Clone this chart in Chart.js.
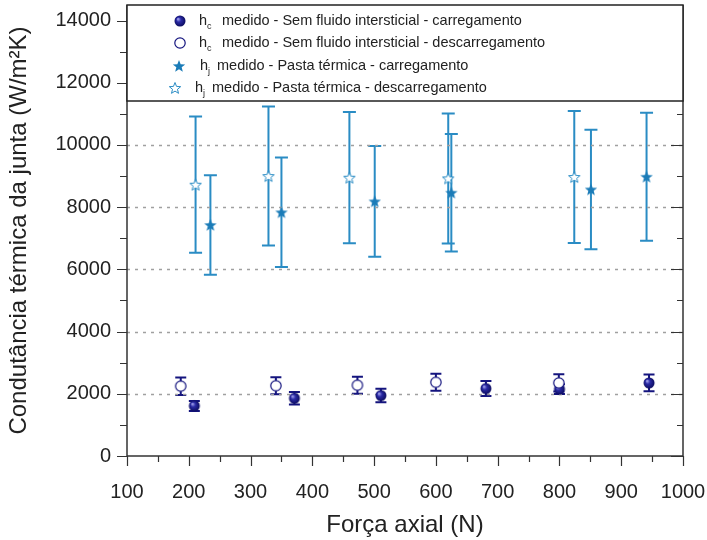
<!DOCTYPE html>
<html>
<head>
<meta charset="utf-8">
<script src="https://cdn.jsdelivr.net/npm/chart.js@4.4.1/dist/chart.umd.min.js"></script>
<style>
html, body { margin: 0; padding: 0; background: #fff; }
</style>
</head>
<body>
<canvas id="chart" width="707" height="540"></canvas>
<script>
// hc - sem fluido intersticial
const hcLoadX = [209, 371, 511, 681, 800, 945];
const hcLoadY = [1610, 1855, 1945, 2170, 2150, 2350];
const hcLoadErr = [160, 200, 220, 240, 160, 270];

const hcUnloadX = [187, 341, 473, 600, 799];
const hcUnloadY = [2245, 2260, 2275, 2370, 2350];
const hcUnloadErr = [280, 275, 275, 275, 275];

// hj - pasta termica
const hjLoadX = [235, 350, 501, 625, 851, 941];
const hjLoadY = [7425, 7833, 8186, 8465, 8570, 8978];
const hjLoadErr = [1600, 1760, 1780, 1890, 1920, 2060];

const hjUnloadX = [211, 329, 460, 620, 824];
const hjUnloadY = [8722, 9000, 8947, 8925, 8970];
const hjUnloadErr = [2190, 2235, 2110, 2090, 2120];

const yLabelTicks = [0, 2000, 4000, 6000, 8000, 10000, 12000, 14000];

const navy = '#14147e';
const blue = '#1b7cb8';
const blueErr = '#2a8cc4';

Chart.defaults.font.family = "'Liberation Sans', Arial, sans-serif";
Chart.defaults.color = '#222';

function makeMarker(size, draw) {
    const c = document.createElement('canvas');
    c.width = size;
    c.height = size;
    draw(c.getContext('2d'), size / 2);
    return c;
}

function starPath(g, cx, cy, R, r) {
    g.beginPath();
    for (let i = 0; i < 10; i++) {
        const a = -Math.PI / 2 + i * Math.PI / 5;
        const rad = i % 2 === 0 ? R : r;
        g.lineTo(cx + rad * Math.cos(a), cy + rad * Math.sin(a));
    }
    g.closePath();
}

const ballMarker = makeMarker(14, (g, c) => {
    const grad = g.createRadialGradient(c - 2, c - 2, 0.5, c, c, 5.8);
    grad.addColorStop(0, '#9a9ae8');
    grad.addColorStop(0.35, '#2a2aa6');
    grad.addColorStop(1, '#0a0a5a');
    g.fillStyle = grad;
    g.beginPath();
    g.arc(c, c, 5.5, 0, Math.PI * 2);
    g.fill();
});

const ringMarker = makeMarker(14, (g, c) => {
    g.fillStyle = '#fff';
    g.strokeStyle = navy;
    g.lineWidth = 1.2;
    g.beginPath();
    g.arc(c, c, 5.2, 0, Math.PI * 2);
    g.fill();
    g.stroke();
});

const starMarker = makeMarker(16, (g, c) => {
    g.fillStyle = blue;
    starPath(g, c, c + 0.5, 6.5, 2.8);
    g.fill();
});

const openStarMarker = makeMarker(16, (g, c) => {
    g.fillStyle = '#fff';
    g.strokeStyle = blueErr;
    g.lineWidth = 1;
    starPath(g, c, c + 0.5, 6, 2.6);
    g.fill();
    g.stroke();
});

function toPoints(xs, ys) {
    return xs.map((x, i) => ({ x: x, y: ys[i] }));
}

function noScalePadding(scale) {
    scale.paddingLeft = 0;
    scale.paddingRight = 0;
    scale.paddingTop = 0;
    scale.paddingBottom = 0;
}

// error bars drawn under the markers
const errorBars = {
    id: 'errorBars',
    beforeDatasetsDraw(chart) {
        const { ctx, scales: { x, y } } = chart;
        chart.data.datasets.forEach(ds => {
            ctx.save();
            ctx.strokeStyle = ds.errColor;
            ctx.lineWidth = 2;
            ds.data.forEach((p, i) => {
                const px = x.getPixelForValue(p.x);
                const top = y.getPixelForValue(p.y + ds.errors[i]);
                const bot = y.getPixelForValue(p.y - ds.errors[i]);
                const w = ds.capWidth / 2;
                ctx.beginPath();
                ctx.moveTo(px, top);
                ctx.lineTo(px, bot);
                ctx.moveTo(px - w, top);
                ctx.lineTo(px + w, top);
                ctx.moveTo(px - w, bot);
                ctx.lineTo(px + w, bot);
                ctx.stroke();
            });
            ctx.restore();
        });
    }
};

// dotted grid, frame and tick marks
const frame = {
    id: 'frame',
    beforeDatasetsDraw(chart) {
        const { ctx, chartArea: a, scales: { y } } = chart;
        ctx.save();
        ctx.strokeStyle = '#a0a0a0';
        ctx.lineWidth = 1.3;
        ctx.setLineDash([3, 5]);
        yLabelTicks.forEach(v => {
            if (v === 0) return;
            const py = Math.round(y.getPixelForValue(v)) + 0.5;
            ctx.beginPath();
            ctx.moveTo(a.left, py);
            ctx.lineTo(a.right, py);
            ctx.stroke();
        });
        ctx.restore();
    },
    afterDatasetsDraw(chart) {
        const { ctx, chartArea: a, scales: { x, y } } = chart;
        ctx.save();
        ctx.strokeStyle = '#333';
        ctx.lineWidth = 1.5;
        ctx.beginPath();
        ctx.moveTo(a.left, a.top);
        ctx.lineTo(a.left, a.bottom);
        ctx.lineTo(a.right, a.bottom);
        ctx.lineTo(a.right, a.top);
        ctx.stroke();
        ctx.lineWidth = 1.2;
        ctx.beginPath();
        for (let v = 0; v <= 14000; v += 1000) {
            const py = Math.round(y.getPixelForValue(v)) + 0.5;
            const major = v % 2000 === 0;
            ctx.moveTo(a.left, py);
            ctx.lineTo(a.left - (major ? 10 : 7), py);
            if (v <= 11000) {
                ctx.moveTo(a.right, py);
                ctx.lineTo(a.right - (major ? 12 : 6), py);
            }
        }
        for (let v = 100; v <= 1000; v += 50) {
            const px = Math.round(x.getPixelForValue(v)) + 0.5;
            ctx.moveTo(px, a.bottom);
            ctx.lineTo(px, a.bottom + (v % 100 === 0 ? 10 : 6));
        }
        ctx.stroke();
        ctx.restore();
    }
};

const legendRows = [
    { img: ballMarker, sub: 'c', text: 'medido - Sem fluido intersticial - carregamento', sx: 180, hx: 199, tx: 222, y: 21 },
    { img: ringMarker, sub: 'c', text: 'medido - Sem fluido intersticial - descarregamento', sx: 180, hx: 199, tx: 222, y: 43 },
    { img: starMarker, sub: 'j', text: 'medido - Pasta térmica - carregamento', sx: 179, hx: 200, tx: 217, y: 66 },
    { img: openStarMarker, sub: 'j', text: 'medido - Pasta térmica - descarregamento', sx: 175, hx: 195, tx: 212, y: 88 }
];

const legendBox = {
    id: 'legendBox',
    afterDraw(chart) {
        const { ctx, chartArea: a } = chart;
        ctx.save();
        ctx.fillStyle = '#fff';
        ctx.fillRect(a.left, a.top, a.right - a.left, 96);
        ctx.strokeStyle = '#222';
        ctx.lineWidth = 1.5;
        ctx.strokeRect(a.left, a.top, a.right - a.left, 96);
        ctx.fillStyle = '#222';
        ctx.textBaseline = 'middle';
        legendRows.forEach(r => {
            ctx.drawImage(r.img, r.sx - r.img.width / 2, r.y - r.img.height / 2);
            ctx.font = "14.5px 'Liberation Sans', Arial, sans-serif";
            ctx.fillText('h', r.hx, r.y);
            const hw = ctx.measureText('h').width;
            ctx.font = "9px 'Liberation Sans', Arial, sans-serif";
            ctx.fillText(r.sub, r.hx + hw, r.y + 6);
            ctx.font = "14.5px 'Liberation Sans', Arial, sans-serif";
            ctx.fillText(r.text, r.tx, r.y);
        });
        ctx.restore();
    }
};

new Chart(document.getElementById('chart'), {
    type: 'scatter',
    data: {
        datasets: [
            {
                label: 'hc medido - Sem fluido intersticial - carregamento',
                data: toPoints(hcLoadX, hcLoadY),
                errors: hcLoadErr,
                errColor: navy,
                capWidth: 11,
                pointStyle: ballMarker,
                order: 2
            },
            {
                label: 'hc medido - Sem fluido intersticial - descarregamento',
                data: toPoints(hcUnloadX, hcUnloadY),
                errors: hcUnloadErr,
                errColor: navy,
                capWidth: 11,
                pointStyle: ringMarker,
                order: 1
            },
            {
                label: 'hj medido - Pasta térmica - carregamento',
                data: toPoints(hjLoadX, hjLoadY),
                errors: hjLoadErr,
                errColor: blueErr,
                capWidth: 13,
                pointStyle: starMarker,
                order: 3
            },
            {
                label: 'hj medido - Pasta térmica - descarregamento',
                data: toPoints(hjUnloadX, hjUnloadY),
                errors: hjUnloadErr,
                errColor: blueErr,
                capWidth: 13,
                pointStyle: openStarMarker,
                order: 4
            }
        ]
    },
    options: {
        responsive: false,
        animation: false,
        layout: { padding: { top: 4, right: 24, left: 0, bottom: 0 } },
        plugins: {
            legend: { display: false },
            tooltip: { enabled: false }
        },
        scales: {
            x: {
                type: 'linear',
                min: 100,
                max: 1000,
                grid: { display: false, drawTicks: false },
                border: { display: false },
                ticks: {
                    stepSize: 100,
                    autoSkip: false,
                    maxRotation: 0,
                    padding: 24,
                    font: { size: 20 },
                    color: '#222',
                    callback: v => String(v)
                },
                title: { display: true, text: 'Força axial (N)', font: { size: 24 }, color: '#222', padding: { top: 6, bottom: 0 } },
                afterFit(scale) {
                    scale.height = 84;
                    noScalePadding(scale);
                }
            },
            y: {
                min: 0,
                max: 14500,
                grid: { display: false, drawTicks: false },
                border: { display: false },
                afterBuildTicks(scale) {
                    scale.ticks = yLabelTicks.map(v => ({ value: v }));
                },
                ticks: {
                    autoSkip: false,
                    padding: 16,
                    font: { size: 20 },
                    color: '#222',
                    callback: v => String(v)
                },
                title: { display: true, text: 'Condutância térmica da junta (W/m²K)', font: { size: 24 }, color: '#222', padding: { top: 5, bottom: 0 } },
                afterFit(scale) {
                    scale.width = 127;
                    noScalePadding(scale);
                }
            }
        }
    },
    plugins: [errorBars, frame, legendBox]
});
</script>
</body>
</html>
